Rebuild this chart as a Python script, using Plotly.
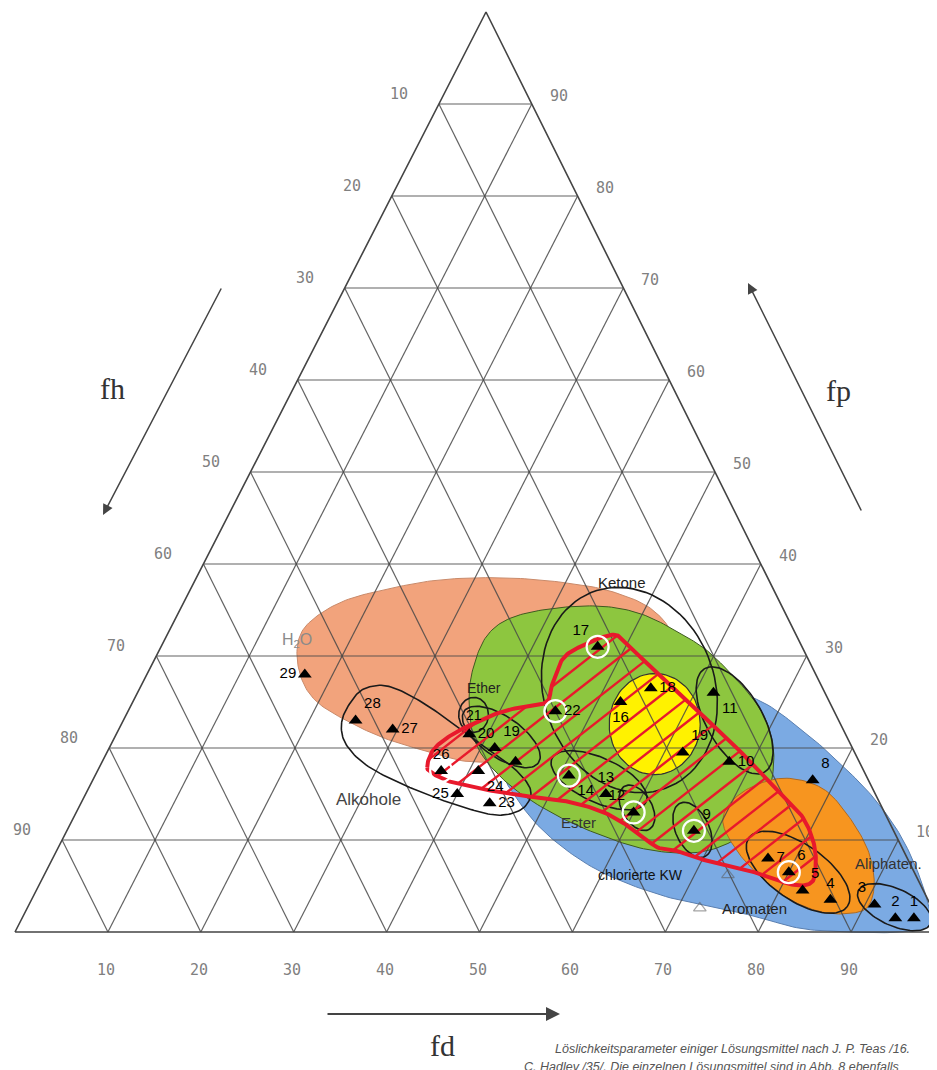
import numpy as np
import plotly.graph_objects as go

# Teas-Diagramm: Anteile fd / fp / fh in %
solvent_ids = ['1', '2', '3', '4', '5', '6', '7', '8', '9', '10', '11', '12', '13', '14',
               '16', '17', '18', '19', '19', '', '20', '22', '23', '24', '25', '26', '27', '28', '29']
solvent_fd = [96, 94, 91, 86, 82.5, 80, 77, 77.5, 67.5, 67.5, 62, 60, 56, 51,
              52.5, 47, 55, 62, 41.5, 44.5, 38, 46, 44, 41, 40, 37, 29.5, 25, 17]
solvent_fp = [1.5, 1.5, 3, 3.5, 4.5, 6.5, 8, 16.5, 11, 18.5, 26, 13, 15, 17,
              25, 31, 26.5, 19.5, 20, 18.5, 21.5, 24, 14, 17.5, 15, 17.5, 22, 23, 28]
solvent_fh = [2.5, 4.5, 6, 10.5, 13, 13.5, 15, 6, 21.5, 14, 12, 27, 29, 32,
              22.5, 22, 18.5, 18.5, 38.5, 37, 40.5, 30, 42, 41.5, 45, 45.5, 48.5, 52, 55]
label_pos = ['top center', 'top center', 'top left', 'top center', 'top right', 'top right',
             'middle right', 'top right', 'top right', 'middle right', 'bottom right', 'top left',
             'top center', 'bottom right', 'bottom center', 'top left', 'middle right', 'top right',
             'top right', 'middle right', 'middle right', 'middle right', 'middle right', 'bottom right',
             'middle left', 'top center', 'middle right', 'top right', 'middle left']
circled = ['6', '9', '12', '14', '17', '22', '26']

# Bereiche (Umrisse in fd / fp)
salmon_fd = [14.8, 14.5, 17.0, 21.7, 26.6, 33.0, 39.7, 45.5, 50.9, 54.6, 55.2, 50.4, 44.9, 39.7, 35.0, 29.6, 24.7, 20.0, 17.0]
salmon_fp = [30.7, 33.4, 35.9, 37.4, 38.3, 38.5, 38.0, 37.0, 35.0, 31.7, 26.3, 20.9, 18.9, 18.5, 19.5, 20.9, 22.7, 24.9, 27.4]

green_fd = [36.1, 34.7, 34.5, 36.2, 40.3, 45.3, 50.1, 55.5, 59.8, 66.4, 69.8, 72.2, 73.6, 72.8, 69.4, 63.9, 57.8, 51.1, 44.6, 39.4]
green_fp = [25.2, 29.0, 32.3, 34.2, 35.2, 35.4, 34.5, 32.3, 30.1, 25.5, 22.3, 18.7, 14.3, 10.5, 8.7, 8.9, 10.5, 13.0, 16.3, 20.3]

blue_fd = [43.9, 45.5, 50.4, 58.2, 66.4, 73.5, 79.7, 84.6, 89.1, 92.7, 96.0, 98.1, 95.3, 89.9, 84.3, 77.9, 68.7, 60.1, 52.9, 47.5]
blue_fp = [17.6, 22.0, 25.2, 26.8, 25.5, 22.0, 18.2, 14.9, 11.3, 7.8, 4.0, 0.8, 0.0, 0.0, 0.4, 1.9, 3.7, 6.4, 10.0, 13.8]

orange_fd = [70.0, 70.5, 74.0, 78.8, 83.2, 87.3, 89.8, 90.4, 88.6, 85.6, 81.7, 77.7, 73.4]
orange_fp = [12.2, 15.1, 16.7, 15.7, 12.7, 8.9, 5.3, 2.7, 2.0, 2.2, 3.5, 5.7, 8.7]

red_fd = [35.3, 35.0, 36.1, 38.1, 40.7, 44.4, 44.2, 43.9, 45.1, 47.9, 50.1, 58.0, 66.2, 73.7, 78.2, 81.2,
          82.9, 82.8, 80.8, 76.7, 71.4, 67.3, 64.5, 60.6, 56.8, 52.7, 48.9, 45.0, 41.1, 38.7, 36.5]
red_fp = [17.9, 19.8, 21.4, 22.8, 24.1, 24.9, 26.8, 29.6, 31.0, 32.3, 31.2, 26.1, 20.9, 15.8, 12.7, 9.5,
          6.4, 5.2, 5.2, 6.4, 7.5, 8.7, 9.2, 11.3, 13.0, 14.1, 14.6, 15.1, 15.8, 16.3, 17.1]

alkohole_fd = [23.6, 23.5, 24.3, 26.7, 31.1, 36.5, 41.3, 45.0, 47.7, 47.9, 45.9, 42.4, 36.0, 29.3, 25.4]
alkohole_fp = [22.8, 25.2, 26.5, 26.7, 25.0, 22.2, 19.6, 17.6, 15.4, 13.5, 12.7, 13.3, 15.2, 17.8, 20.3]

# Ellipsen: Mitte fd, Mitte fp, Halbachsen, Drehung
yellow_ell = (57.4, 22.6, 4.9, 5.5, 0)
outline_ells = {
    'ketone': (52.8, 26.3, 11.4, 9.2, -70),
    'e21': (37.4, 23.6, 1.6, 1.9, 0),
    'e20': (41.6, 21.2, 4.9, 2.2, -35),
    'e11': (65.8, 23.0, 6.5, 3.0, -60),
    'e13': (54.5, 16.5, 5.6, 2.4, -25),
    'e12': (60.1, 13.5, 2.7, 1.6, -60),
    'e9': (67.3, 11.1, 3.2, 1.8, -65),
    'e7': (81.0, 6.5, 6.5, 3.0, -35),
    'e3': (93.3, 2.7, 4.3, 2.0, -25),
}

region_names = ['Ketone', 'Ether', 'H<sub>2</sub>O', 'Alkohole', 'Ester', 'chlorierte KW', 'Aromaten', 'Aliphaten.']
region_fd = [46.1, 37.0, 14.3, 30.7, 54.6, 64.2, 78.3, 90.2]
region_fp = [38.0, 26.5, 31.7, 14.4, 11.9, 6.2, 2.6, 7.5]
faint_fd = [72.4, 73.6]
faint_fp = [2.6, 6.2]

grid_steps = [10, 20, 30, 40, 50, 60, 70, 80, 90]

# Lage des Dreiecks auf der Seite
L = (15, 932)
R = (944, 932)
A = (486, 12)


def tern_xy(fd, fp):
    fd = np.asarray(fd, float)
    fp = np.asarray(fp, float)
    x = L[0] + (R[0] - L[0]) * fd / 100 + (A[0] - L[0]) * fp / 100
    y = L[1] + (R[1] - L[1]) * fd / 100 + (A[1] - L[1]) * fp / 100
    return x, y


def smooth_closed(fd, fp, n=14):
    x, y = tern_xy(fd, fp)
    pts = np.column_stack([x, y])
    m = len(pts)
    out = []
    for i in range(m):
        p0, p1, p2, p3 = pts[i - 1], pts[i], pts[(i + 1) % m], pts[(i + 2) % m]
        for t in np.linspace(0, 1, n, endpoint=False):
            out.append(0.5 * (2 * p1 + (-p0 + p2) * t + (2 * p0 - 5 * p1 + 4 * p2 - p3) * t ** 2
                              + (-p0 + 3 * p1 - 3 * p2 + p3) * t ** 3))
    out.append(out[0])
    out = np.array(out)
    return out[:, 0], out[:, 1]


def ellipse(fd_c, fp_c, a, b, ang, n=90):
    t = np.linspace(0, 2 * np.pi, n)
    r = np.radians(ang)
    du = a * np.cos(t) * np.cos(r) - b * np.sin(t) * np.sin(r)
    dv = a * np.cos(t) * np.sin(r) + b * np.sin(t) * np.cos(r)
    return tern_xy(fd_c + du - dv / 2, fp_c + dv)


def hatch(px, py, spacing=18.5, angle=38):
    # parallele Schraffurlinien, auf den Umriss beschnitten
    th = np.radians(angle)
    proj = px * np.sin(th) + py * np.cos(th)
    hx, hy = [], []
    for c in np.arange(proj.min() + 6, proj.max(), spacing):
        pts = []
        for i in range(len(px) - 1):
            f0, f1 = proj[i] - c, proj[i + 1] - c
            if f0 * f1 < 0:
                t = f0 / (f0 - f1)
                pts.append((px[i] + t * (px[i + 1] - px[i]), py[i] + t * (py[i + 1] - py[i])))
        pts.sort()
        for j in range(0, len(pts) - 1, 2):
            hx += [pts[j][0], pts[j + 1][0], None]
            hy += [pts[j][1], pts[j + 1][1], None]
    return hx, hy


fig = go.Figure()

# Farbflächen
for fd, fp, fill, edge in [(salmon_fd, salmon_fp, '#F2A37C', '#C98A6A'),
                           (blue_fd, blue_fp, '#7BAAE3', '#5A7FB0'),
                           (green_fd, green_fp, '#8DC63F', '#3E5A20'),
                           (orange_fd, orange_fp, '#F7951F', '#B06A20')]:
    x, y = smooth_closed(fd, fp)
    fig.add_trace(go.Scatter(x=x, y=y, mode='lines', fill='toself', fillcolor=fill,
                             line=dict(color=edge, width=1), hoverinfo='skip'))

x, y = ellipse(*yellow_ell)
fig.add_trace(go.Scatter(x=x, y=y, mode='lines', fill='toself', fillcolor='#FFF200',
                         line=dict(color='#333', width=1.2), hoverinfo='skip'))

# Gitter
gx, gy = [], []
for k in grid_steps:
    for a, b in [((0, k), (100 - k, k)), ((k, 0), (k, 100 - k)), ((100 - k, 0), (0, 100 - k))]:
        x, y = tern_xy([a[0], b[0]], [a[1], b[1]])
        gx += list(x) + [None]
        gy += list(y) + [None]
fig.add_trace(go.Scatter(x=gx, y=gy, mode='lines', line=dict(color='rgba(70,70,70,0.85)', width=1.2),
                         hoverinfo='skip'))
x, y = tern_xy([0, 100, 0, 0], [0, 0, 100, 0])
fig.add_trace(go.Scatter(x=x, y=y, mode='lines', line=dict(color='#444', width=1.6), hoverinfo='skip'))

# schwarze Umrisse
x, y = smooth_closed(alkohole_fd, alkohole_fp)
fig.add_trace(go.Scatter(x=x, y=y, mode='lines', line=dict(color='#1a1a1a', width=1.6), hoverinfo='skip'))
for name, ell in outline_ells.items():
    x, y = ellipse(*ell)
    fig.add_trace(go.Scatter(x=x, y=y, mode='lines', line=dict(color='#1a1a1a', width=1.6),
                             hoverinfo='skip'))

# rot schraffierter Bereich
x, y = smooth_closed(red_fd, red_fp)
hx, hy = hatch(x, y)
fig.add_trace(go.Scatter(x=hx, y=hy, mode='lines', line=dict(color='#E8192C', width=2.4), hoverinfo='skip'))
fig.add_trace(go.Scatter(x=x, y=y, mode='lines', line=dict(color='#E8192C', width=4), hoverinfo='skip'))

# blasse Dreiecke neben den Bereichsnamen
x, y = tern_xy(faint_fd, faint_fp)
fig.add_trace(go.Scatter(x=x, y=y, mode='markers', hoverinfo='skip',
                         marker=dict(symbol='triangle-up-open', size=11, color='rgba(90,90,90,0.55)',
                                     line=dict(width=1.2))))

# Lösungsmittel
cx = [fd for fd, s in zip(solvent_fd, solvent_ids) if s in circled]
cy = [fp for fp, s in zip(solvent_fp, solvent_ids) if s in circled]
x, y = tern_xy(cx, cy)
fig.add_trace(go.Scatter(x=x, y=y, mode='markers',
                         marker=dict(symbol='circle-open', size=22, color='white', line=dict(width=2.2)),
                         hoverinfo='skip'))
x, y = tern_xy(solvent_fd, solvent_fp)
fig.add_trace(go.Scatter(x=x, y=y, mode='markers+text', text=solvent_ids, textposition=label_pos,
                         textfont=dict(family='Arial', size=15, color='black'),
                         customdata=solvent_fh,
                         hovertemplate='fd %{x}<br>fh %{customdata}<extra></extra>',
                         marker=dict(symbol='triangle-up', size=12, color='black')))

annotations = []
x21, y21 = tern_xy(37.4, 23.6)
annotations.append(dict(x=float(x21), y=float(y21), text='21', showarrow=False,
                        font=dict(family='Arial', size=14, color='black')))

region_colors = ['#222', '#222', '#8a8a8a', '#444', '#333', '#111', '#222', '#333']
region_sizes = [15, 14, 16, 17, 15, 14, 15, 15]
rx, ry = tern_xy(region_fd, region_fp)
for name, xx, yy, c, s in zip(region_names, rx, ry, region_colors, region_sizes):
    annotations.append(dict(x=float(xx), y=float(yy), text=name, showarrow=False,
                            font=dict(family='Arial', size=s, color=c)))

# Achsenbeschriftung
tick_font = dict(family='DejaVu Sans Mono', size=15, color='#808080')
for k in grid_steps:
    xx, yy = tern_xy(0, 100 - k)
    annotations.append(dict(x=float(xx), y=float(yy), text=str(k), showarrow=False, font=tick_font,
                            xshift=-40, yshift=10))
    xx, yy = tern_xy(100 - k, k)
    annotations.append(dict(x=float(xx), y=float(yy), text=str(k), showarrow=False, font=tick_font,
                            xshift=27, yshift=8))
    xx, yy = tern_xy(k, 0)
    annotations.append(dict(x=float(xx), y=float(yy), text=str(k), showarrow=False, font=tick_font,
                            xshift=-2, yshift=-38))

title_font = dict(family='Liberation Serif', size=30, color='#333')
annotations += [
    dict(x=112, y=388, text='fh', showarrow=False, font=title_font),
    dict(x=838, y=390, text='fp', showarrow=False, font=title_font),
    dict(x=442, y=1045, text='fd', showarrow=False, font=title_font),
    dict(x=103, y=515, ax=222, ay=287, axref='x', ayref='y', text='', showarrow=True,
         arrowhead=2, arrowsize=1.4, arrowwidth=1.5, arrowcolor='#444'),
    dict(x=748, y=283, ax=862, ay=512, axref='x', ayref='y', text='', showarrow=True,
         arrowhead=2, arrowsize=1.4, arrowwidth=1.5, arrowcolor='#444'),
    dict(x=560, y=1014, ax=326, ay=1014, axref='x', ayref='y', text='', showarrow=True,
         arrowhead=2, arrowsize=1.4, arrowwidth=2, arrowcolor='#444'),
    dict(x=553, y=1049, xanchor='left', text='<i>Löslichkeitsparameter einiger Lösungsmittel nach J. P. Teas /16.</i>',
         showarrow=False, font=dict(family='Liberation Sans', size=12.5, color='#555')),
    dict(x=522, y=1067, xanchor='left', text='<i>C. Hadley /35/. Die einzelnen Lösungsmittel sind in Abb. 8 ebenfalls</i>',
         showarrow=False, font=dict(family='Liberation Sans', size=12.5, color='#555')),
]

# die Seite hat 8 px Rand, daher sind die Achsen um 8 px verschoben
fig.update_layout(
    width=937, height=1070,
    margin=dict(l=0, r=0, t=0, b=0),
    paper_bgcolor='white', plot_bgcolor='white',
    showlegend=False,
    xaxis=dict(range=[8, 945], visible=False, fixedrange=True),
    yaxis=dict(range=[1078, 8], visible=False, fixedrange=True),
    annotations=annotations,
)

fig.write_html("out.html")
